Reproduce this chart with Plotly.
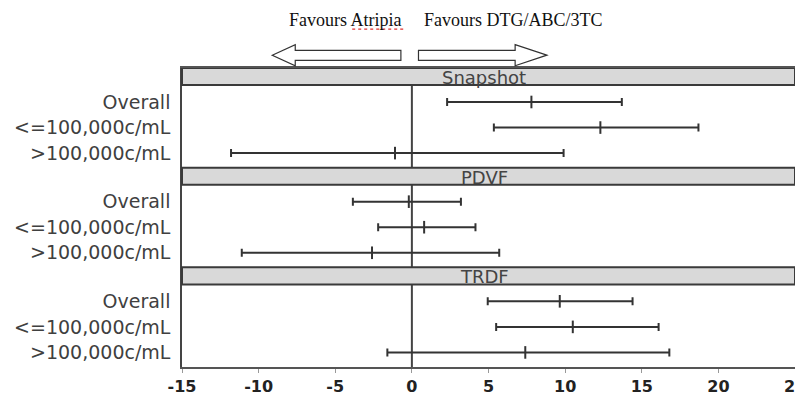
import plotly.graph_objects as go

# ---- data ----
panels = ["Snapshot", "PDVF", "TRDF"]
subgroups = ["Overall", "<=100,000c/mL", ">100,000c/mL"]
est = [7.8, 12.3, -1.1,   -0.2, 0.8, -2.6,   9.65, 10.5, 7.4]
lo  = [2.3, 5.35, -11.8,  -3.85, -2.2, -11.1, 4.95, 5.5, -1.6]
hi  = [13.7, 18.7, 9.9,   3.2, 4.15, 5.7,   14.4, 16.1, 16.8]
xticks = [-15, -10, -5, 0, 5, 10, 15, 20, 25]

# ---- layout constants (page has an 8px body margin) ----
OFF = 8
W, H = 803, 391
PL, PR, PT, PB = 181.7, 795, 68.3, 367   # plot area in page pixels
ML, MR, MT, MB = PL - OFF, W - (PR - OFF), PT - OFF, H - (PB - OFF)
PANEL_H = 3.9
HEADER_H = 0.67
ROW0 = 1.33

ys, ylabels = [], []
for g in range(len(panels)):
    for r in range(len(subgroups)):
        ys.append(g * PANEL_H + ROW0 + r)
        ylabels.append(subgroups[r])

plus = [h - e for h, e in zip(hi, est)]
minus = [e - l for e, l in zip(est, lo)]

fig = go.Figure()
fig.add_trace(go.Scatter(
    x=est, y=ys, mode="markers",
    marker=dict(symbol="line-ns", size=9, line=dict(width=2, color="#333333"), color="#333333"),
    error_x=dict(type="data", array=plus, arrayminus=minus, symmetric=False,
                 color="#333333", thickness=2, width=4),
    showlegend=False, hoverinfo="skip",
))

pw, ph = W - ML - MR, H - MT - MB
def P(px, py):
    return (px - PL) / pw, (PB - py) / ph

ymax = PANEL_H * len(panels)
shapes = []
shapes.append(dict(type="line", xref="x", yref="y", x0=0, x1=0, y0=HEADER_H, y1=ymax,
                   line=dict(color="#444444", width=2), layer="below"))
annotations = []
for g, name in enumerate(panels):
    y0 = g * PANEL_H
    shapes.append(dict(type="rect", xref="paper", yref="y", x0=0, x1=1, y0=y0, y1=y0 + HEADER_H,
                       fillcolor="#d9d9d9", line=dict(color="#3a3a3a", width=2), layer="above"))
    annotations.append(dict(text=name, xref="paper", yref="y", x=P(484, 0)[0], xanchor="center",
                            y=y0 + HEADER_H * 0.55, yanchor="middle", showarrow=False,
                            font=dict(family="DejaVu Sans", size=18, color="#444444")))

def path(pts):
    s = ""
    for i, (px, py) in enumerate(pts):
        x, y = P(px, py)
        s += ("M" if i == 0 else "L") + f"{x:.5f},{y:.5f} "
    return s + "Z"

left_arrow = [(272, 55.5), (295, 45), (295, 50.7), (400.7, 50.7), (400.7, 60.7),
              (295, 60.7), (295, 66), (272, 55.5)]
right_arrow = [(546.7, 55.5), (515, 45), (515, 50.7), (418.3, 50.7), (418.3, 60.7),
               (515, 60.7), (515, 66), (546.7, 55.5)]
for a in (left_arrow, right_arrow):
    shapes.append(dict(type="path", xref="paper", yref="paper", path=path(a),
                       fillcolor="white", line=dict(color="#333333", width=1.2)))

# spell-check squiggle under "Atripia"
sx0, sy0 = P(352, 29.5)
sx1, _ = P(406, 29.5)
shapes.append(dict(type="line", xref="paper", yref="paper", x0=sx0, x1=sx1, y0=sy0, y1=sy0,
                   line=dict(color="#e03030", width=1.2, dash="dot")))

for txt, px in (("Favours Atripia", 345), ("Favours DTG/ABC/3TC", 513)):
    x, y = P(px, 20)
    annotations.append(dict(text=txt, xref="paper", yref="paper", x=x, y=y, showarrow=False,
                            xanchor="center", yanchor="middle",
                            font=dict(family="Liberation Serif", size=18, color="#111111")))

fig.update_layout(
    width=W, height=H,
    margin=dict(l=ML, r=MR, t=MT, b=MB, autoexpand=False),
    paper_bgcolor="white", plot_bgcolor="white",
    shapes=shapes, annotations=annotations,
    xaxis=dict(range=[-15, 25], tickvals=xticks,
               ticktext=[f"<b>{v}</b>" for v in xticks],
               ticks="outside", ticklen=4, tickcolor="#999999",
               showgrid=False, zeroline=False,
               showline=True, linecolor="#555555", linewidth=1.5, mirror=True,
               tickfont=dict(family="DejaVu Sans", size=16, color="#222222")),
    yaxis=dict(range=[ymax, 0], tickvals=ys, ticktext=ylabels, ticks="",
               showgrid=False, zeroline=False,
               showline=True, linecolor="#444444", linewidth=1.5, mirror=True,
               ticklabelstandoff=6,
               tickfont=dict(family="DejaVu Sans", size=19, color="#404040")),
)

fig.write_html("out.html")
